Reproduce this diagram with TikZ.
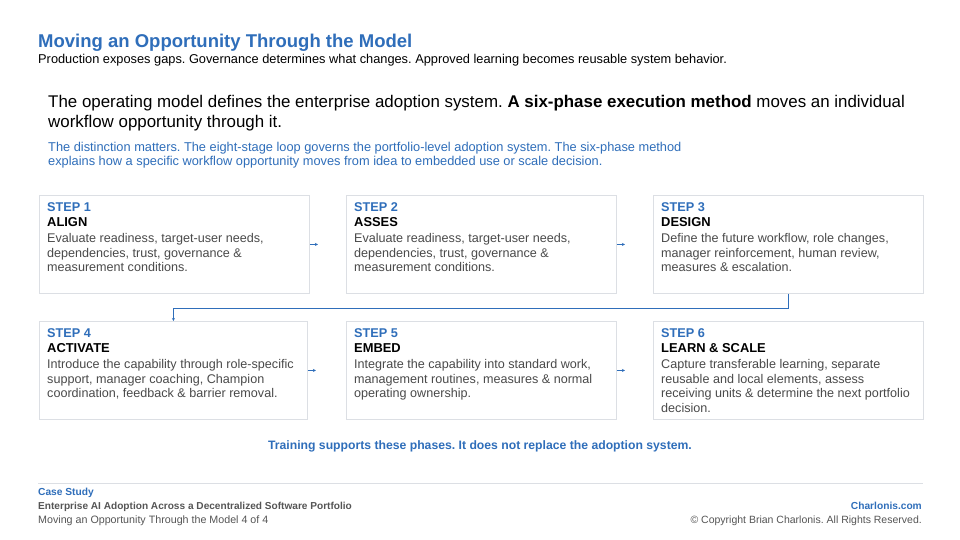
\documentclass[tikz,border=0pt]{standalone}
\usepackage{fontspec}
\setmainfont{Liberation Sans}
\usetikzlibrary{positioning,arrows.meta}
\frenchspacing
\definecolor{brandblue}{HTML}{2F6EBA}
\definecolor{bodygrey}{HTML}{4A4A4A}
\definecolor{footgrey}{HTML}{555555}
\definecolor{boxline}{HTML}{DCDFE4}
\tikzset{
	phasebox/.style={draw=boxline, line width=0.9pt, inner sep=0pt, anchor=north west},
	stepnum/.style={anchor=north west, inner sep=0pt, text=brandblue, font=\fontsize{12.7}{14}\selectfont\bfseries},
	stepname/.style={anchor=north west, inner sep=0pt, text=black, font=\fontsize{12.9}{14}\selectfont\bfseries},
	stepbody/.style={anchor=north west, inner sep=0pt, align=left, text=bodygrey, font=\fontsize{12.6}{14.4}\selectfont},
	flowarrow/.style={draw=brandblue, line width=0.8pt, -{Stealth[length=3pt,width=3pt]}},
	plain/.style={inner sep=0pt, anchor=base west}
}
\newcommand{\phasestep}[7]{%
	\node[phasebox, minimum width=#4pt, minimum height=98pt] (#1) at (#2,#3) {};
	\node[stepnum] (#1-num) at ([shift={(8,7)}]#1.north west) {STEP #5};
	\node[stepname] (#1-name) at ([shift={(8,22.5)}]#1.north west) {#6};
	\node[stepbody] (#1-body) at ([shift={(8,38.5)}]#1.north west) {#7};
}
\begin{document}
\begin{tikzpicture}[x=1pt,y=-1pt]
	\useasboundingbox[fill=white] (0,0) rectangle (960,540);
	\node[plain, text=brandblue, font=\fontsize{18.5}{20}\selectfont\bfseries] (title) at (38,48) {Moving an Opportunity Through the Model};
	\node[plain, font=\fontsize{12.8}{14}\selectfont] (subtitle) at (38,64) {Production exposes gaps. Governance determines what changes. Approved learning becomes reusable system behavior.};
	\node[plain, font=\fontsize{16.9}{20}\selectfont] (lead1) at (48,108) {The operating model defines the enterprise adoption system. \textbf{A six-phase execution method} moves an individual};
	\node[plain, font=\fontsize{16.9}{20}\selectfont] (lead2) at (48,128) {workflow opportunity through it.};
	\node[plain, text=brandblue, font=\fontsize{12.8}{14}\selectfont] (note1) at (48,151.5) {The distinction matters. The eight-stage loop governs the portfolio-level adoption system. The six-phase method};
	\node[plain, text=brandblue, font=\fontsize{12.8}{14}\selectfont] (note2) at (48,166) {explains how a specific workflow opportunity moves from idea to embedded use or scale decision.};

	\phasestep{s1}{39}{195}{270}{1}{ALIGN}{Evaluate readiness, target-user needs,\\dependencies, trust, governance \&\\measurement conditions.}
	\phasestep{s2}{346}{195}{270}{2}{ASSES}{Evaluate readiness, target-user needs,\\dependencies, trust, governance \&\\measurement conditions.}
	\phasestep{s3}{653}{195}{270}{3}{DESIGN}{Define the future workflow, role changes,\\manager reinforcement, human review,\\measures \& escalation.}
	\phasestep{s4}{39}{321}{268}{4}{ACTIVATE}{Introduce the capability through role-specific\\support, manager coaching, Champion\\coordination, feedback \& barrier removal.}
	\phasestep{s5}{346}{321}{270}{5}{EMBED}{Integrate the capability into standard work,\\management routines, measures \& normal\\operating ownership.}
	\phasestep{s6}{653}{321}{270}{6}{LEARN \& SCALE}{Capture transferable learning, separate\\reusable and local elements, assess\\receiving units \& determine the next portfolio\\decision.}

	\foreach \a/\b in {s1/s2,s2/s3,s4/s5,s5/s6}{
		\coordinate (\a-out) at ([xshift=8]\a.east);
		\draw[flowarrow] (\a.east) -- (\a-out);
	}
	\draw[flowarrow] (s3.south) -- ++(0,14) -| (s4.north);

	\node[plain, anchor=base, text=brandblue, font=\fontsize{12.2}{14}\selectfont\bfseries] (training) at (480,449.5) {Training supports these phases. It does not replace the adoption system.};

	\coordinate (ruleL) at (38,483);
	\coordinate (ruleR) at (923,483);
	\draw[boxline, line width=0.8pt] (ruleL) -- (ruleR);
	\node[plain, text=brandblue, font=\fontsize{10.2}{12}\selectfont\bfseries] (case) at (38,495.5) {Case Study};
	\node[plain, text=footgrey, font=\fontsize{10.1}{12}\selectfont\bfseries] (project) at (38,509.5) {Enterprise AI Adoption Across a Decentralized Software Portfolio};
	\node[plain, text=footgrey, font=\fontsize{10.7}{12}\selectfont] (page) at (38,523.5) {Moving an Opportunity Through the Model 4 of 4};
	\node[plain, anchor=base east, text=brandblue, font=\fontsize{10.2}{12}\selectfont\bfseries] (site) at (922,509.5) {Charlonis.com};
	\node[plain, anchor=base east, text=footgrey, font=\fontsize{10.5}{12}\selectfont] (copy) at (922,523.5) {© Copyright Brian Charlonis. All Rights Reserved.};
\end{tikzpicture}
\end{document}
